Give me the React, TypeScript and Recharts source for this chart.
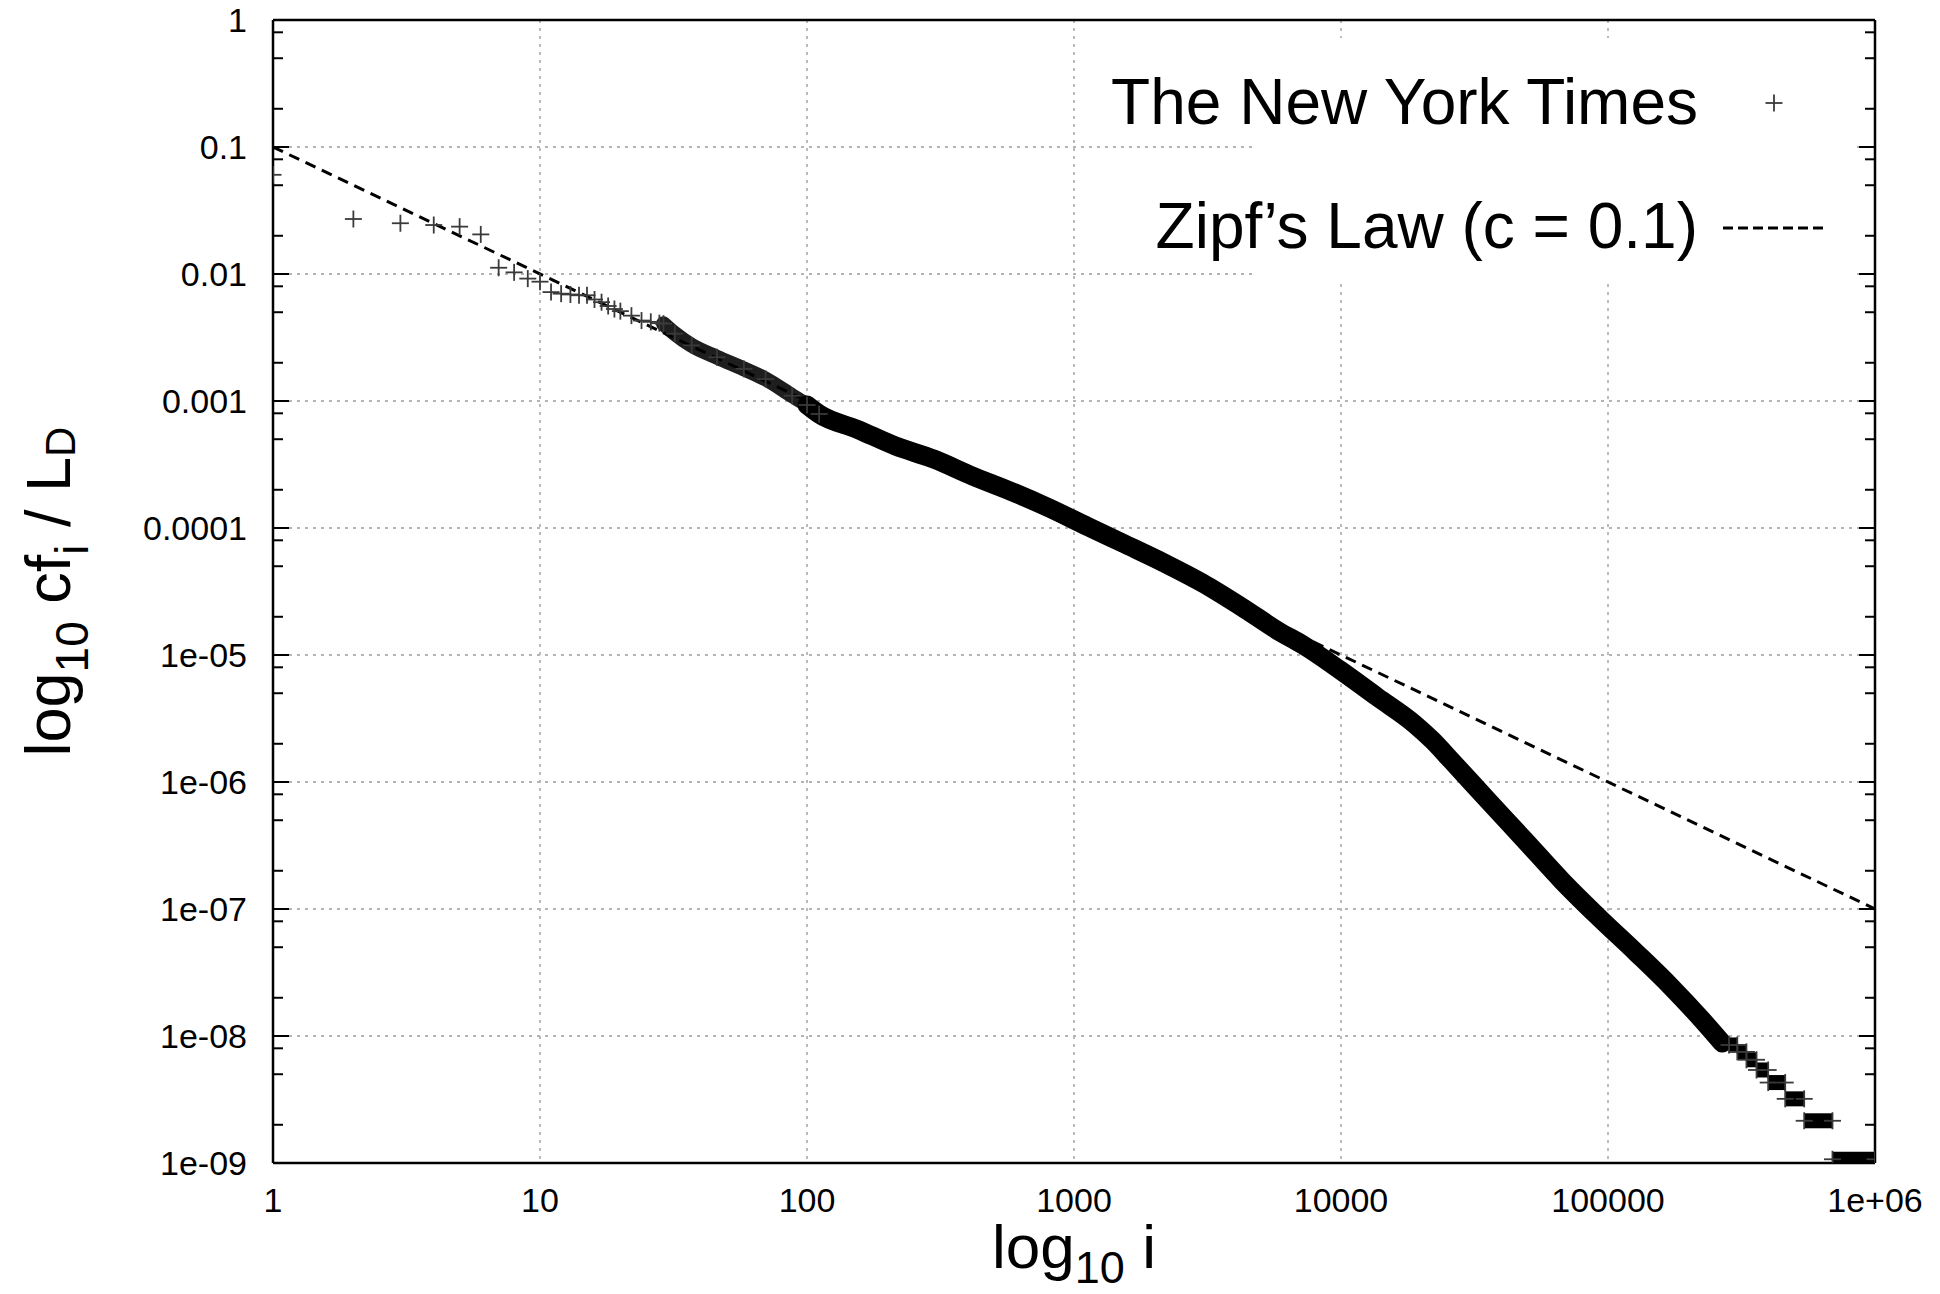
import React from 'react';
import { ComposedChart, Line, Scatter, XAxis, YAxis, CartesianGrid, Legend } from 'recharts';

const FONT = '"Liberation Sans", Arial, Helvetica, sans-serif';

// axis ticks
const xMajorTicks = [1, 10, 100, 1000, 10000, 100000, 1000000];
const xTickLabels = ['1', '10', '100', '1000', '10000', '100000', '1e+06'];
const xMinorTicks = [2, 5, 8, 20, 50, 80, 200, 500, 800, 2000, 5000, 8000, 20000, 50000, 80000, 200000, 500000, 800000];
const yMajorTicks = [1e-9, 1e-8, 1e-7, 1e-6, 1e-5, 1e-4, 1e-3, 1e-2, 1e-1, 1];
const yTickLabels = ['1e-09', '1e-08', '1e-07', '1e-06', '1e-05', '0.0001', '0.001', '0.01', '0.1', '1'];
const yMinorTicks = [
  2e-9, 5e-9, 8e-9, 2e-8, 5e-8, 8e-8, 2e-7, 5e-7, 8e-7, 2e-6, 5e-6, 8e-6,
  2e-5, 5e-5, 8e-5, 2e-4, 5e-4, 8e-4, 2e-3, 5e-3, 8e-3, 0.02, 0.05, 0.08, 0.2, 0.5, 0.8,
];

// The New York Times: first ranks, seen as single "+" marks
const headRanks = [1, 2, 3, 4, 5, 6, 7, 8, 9, 10, 11, 12, 13, 14, 15, 16, 17, 18, 19, 20, 22, 24, 26, 28];
const headValues = [
  0.0604, 0.0271, 0.0251, 0.0243, 0.0236, 0.0205, 0.0112, 0.0103, 0.0092, 0.0087, 0.0072, 0.007,
  0.0069, 0.0068, 0.0068, 0.0063, 0.006, 0.0056, 0.0053, 0.0051, 0.0047, 0.0043, 0.0042, 0.0041,
];

// where the marks start to merge into a band
const earlyRanks = [29, 32, 37, 46, 58, 70, 88, 100, 111];
const earlyValues = [0.00406, 0.00339, 0.00274, 0.00221, 0.00179, 0.00149, 0.0011, 0.00093, 0.00079];

// dense part of the curve
const bandRanks = [
  100, 111, 154, 214, 299, 416, 579, 806, 1122, 1563, 2175, 3029, 4217, 5870, 7200, 9930, 13650,
  18790, 22000, 25860, 35560, 48980, 67400, 92700, 127700, 172000, 225000, 268000,
];
const bandValues = [
  0.00093, 0.00079, 0.0006, 0.000443, 0.000348, 0.000257, 0.000195, 0.000144, 0.000103, 7.41e-5,
  5.31e-5, 3.69e-5, 2.41e-5, 1.53e-5, 1.2e-5, 7.6e-6, 4.68e-6, 2.88e-6, 2.13e-6, 1.48e-6, 7.14e-7,
  3.45e-7, 1.66e-7, 8.54e-8, 4.52e-8, 2.45e-8, 1.34e-8, 8.8e-9,
];

// tail plateaus (cf = 8 ... 1)
const stepFrom = [284000, 305000, 330000, 360000, 398000, 461000, 543000, 693000];
const stepTo = [305000, 330000, 360000, 398000, 461000, 543000, 693000, 1000000];
const stepValues = [8.5e-9, 7.5e-9, 6.5e-9, 5.4e-9, 4.3e-9, 3.2e-9, 2.15e-9, 1.07e-9];

// Zipf's law, c = 0.1
const zipfRanks = [1, 1000000];
const zipfValues = [0.1, 1e-7];

const toPoints = (ranks: number[], values: number[]) => ranks.map((rank, i) => ({ rank, value: values[i] }));

const headPoints = toPoints(headRanks, headValues);
const earlyPoints = toPoints(earlyRanks, earlyValues);
const bandPoints = toPoints(bandRanks, bandValues);
const stepSegments = stepFrom.map((from, i) => toPoints([from, stepTo[i]], [stepValues[i], stepValues[i]]));
const stepEnds = stepSegments.flat();
const zipfPoints = toPoints(zipfRanks, zipfValues);

const fmtX = (v: number) => xTickLabels[xMajorTicks.indexOf(v)] ?? '';
const fmtY = (v: number) => yTickLabels[yMajorTicks.indexOf(v)] ?? '';
const noLabel = () => '';

const PlusMark = ({ cx, cy }: any) => {
  if (cx == null || cy == null) return null;
  return (
    <g stroke="#3a3a3a" strokeWidth={1.8}>
      <line x1={cx - 8.5} y1={cy} x2={cx + 8.5} y2={cy} />
      <line x1={cx} y1={cy - 8.5} x2={cx} y2={cy + 8.5} />
    </g>
  );
};

const XTitle = (props: any) => {
  const vb = props.viewBox || { x: 275, width: 1597 };
  return (
    <text x={vb.x + vb.width / 2} y={1268} textAnchor="middle" fontSize={62} fontFamily={FONT} fill="#000">
      <tspan>log</tspan>
      <tspan fontSize={45} dy={15}>10</tspan>
      <tspan dy={-15}> i</tspan>
    </text>
  );
};

const YTitle = (props: any) => {
  const vb = props.viewBox || { y: 22, height: 1139 };
  const cy = vb.y + vb.height / 2;
  return (
    <text x={0} y={0} transform={`translate(70, ${cy}) rotate(-90)`} textAnchor="middle" fontSize={63} fontFamily={FONT} fill="#000">
      <tspan>log</tspan>
      <tspan fontSize={46} dy={18}>10</tspan>
      <tspan dy={-18}> cf</tspan>
      <tspan fontSize={46} dy={18}>i</tspan>
      <tspan dy={-18}> / L</tspan>
      <tspan fontSize={42} dy={5}>D</tspan>
    </text>
  );
};

const LegendBox = () => (
  <svg width={604} height={244} style={{ display: 'block', overflow: 'visible' }}>
    <rect x={0} y={0} width={604} height={244} fill="#fff" />
    <text x={446} y={86} textAnchor="end" fontSize={64} fontFamily={FONT} fill="#000">
      The New York Times
    </text>
    <PlusMark cx={522} cy={65} />
    <text x={446} y={210} textAnchor="end" fontSize={64} fontFamily={FONT} fill="#000">
      Zipf’s Law (c = 0.1)
    </text>
    <line x1={471} y1={190} x2={576} y2={190} stroke="#000" strokeWidth={3} strokeDasharray="10 5" />
  </svg>
);

const axisLine = { stroke: '#000', strokeWidth: 2.5 };
const tickLine = { stroke: '#000', strokeWidth: 2 };
const tickFont = { fontSize: 34, fill: '#000', fontFamily: FONT };

// inward tick marks: mirrored axes without labels
const xTickAxes = [
  { id: 'xb', orientation: 'bottom', ticks: xMajorTicks, size: 16 },
  { id: 'xbm', orientation: 'bottom', ticks: xMinorTicks, size: 9 },
  { id: 'xt', orientation: 'top', ticks: xMajorTicks, size: 16 },
  { id: 'xtm', orientation: 'top', ticks: xMinorTicks, size: 9 },
];
const yTickAxes = [
  { id: 'yl', orientation: 'left', ticks: yMajorTicks, size: 16 },
  { id: 'ylm', orientation: 'left', ticks: yMinorTicks, size: 9 },
  { id: 'yr', orientation: 'right', ticks: yMajorTicks, size: 16 },
  { id: 'yrm', orientation: 'right', ticks: yMinorTicks, size: 9 },
];

export default function App() {
  return (
    <div style={{ position: 'absolute', left: 0, top: 0, width: 1940, height: 1294, background: '#fff' }}>
      <ComposedChart width={1940} height={1294} margin={{ top: 20, right: 65, bottom: 130, left: 272 }}>
        <CartesianGrid xAxisId="x" yAxisId="y" stroke="#b4b4b4" strokeWidth={1.8} strokeDasharray="3 5" />

        <Scatter xAxisId="x" yAxisId="y" data={headPoints} dataKey="value" shape={(p: any) => <PlusMark {...p} />} isAnimationActive={false} />
        <Line xAxisId="x" yAxisId="y" data={earlyPoints} dataKey="value" type="monotone" stroke="#1e1e1e" strokeWidth={15} strokeLinecap="round" strokeLinejoin="round" dot={false} activeDot={false} isAnimationActive={false} />
        <Scatter xAxisId="x" yAxisId="y" data={earlyPoints} dataKey="value" shape={(p: any) => <PlusMark {...p} />} isAnimationActive={false} />
        <Line xAxisId="x" yAxisId="y" data={bandPoints} dataKey="value" type="monotone" stroke="#000" strokeWidth={19} strokeLinecap="round" strokeLinejoin="round" dot={false} activeDot={false} isAnimationActive={false} />
        {stepSegments.map((seg, i) => (
          <Line key={i} xAxisId="x" yAxisId="y" data={seg} dataKey="value" type="linear" stroke="#000" strokeWidth={15} strokeLinecap="butt" dot={false} activeDot={false} isAnimationActive={false} />
        ))}
        <Scatter xAxisId="x" yAxisId="y" data={stepEnds} dataKey="value" shape={(p: any) => <PlusMark {...p} />} isAnimationActive={false} />
        <Line xAxisId="x" yAxisId="y" data={zipfPoints} dataKey="value" type="linear" stroke="#000" strokeWidth={3} strokeDasharray="11 7" dot={false} activeDot={false} isAnimationActive={false} />

        <XAxis xAxisId="x" dataKey="rank" type="number" scale="log" domain={[1, 1000000]} allowDataOverflow ticks={xMajorTicks} interval={0} tickFormatter={fmtX} height={1} tickSize={0} tickMargin={25} axisLine={axisLine} tickLine={false} tick={tickFont} label={(p: any) => <XTitle {...p} />} />
        {xTickAxes.map((a) => (
          <XAxis key={a.id} xAxisId={a.id} orientation={a.orientation as any} mirror type="number" scale="log" domain={[1, 1000000]} allowDataOverflow ticks={a.ticks} interval={0} tickFormatter={noLabel} height={1} tickSize={a.size} axisLine={a.orientation === 'top' && a.size === 16 ? axisLine : false} tickLine={tickLine} />
        ))}

        <YAxis yAxisId="y" dataKey="value" type="number" scale="log" domain={[1e-9, 1]} allowDataOverflow ticks={yMajorTicks} interval={0} tickFormatter={fmtY} width={1} tickSize={0} tickMargin={26} axisLine={axisLine} tickLine={false} tick={tickFont} label={(p: any) => <YTitle {...p} />} />
        {yTickAxes.map((a) => (
          <YAxis key={a.id} yAxisId={a.id} orientation={a.orientation as any} mirror type="number" scale="log" domain={[1e-9, 1]} allowDataOverflow ticks={a.ticks} interval={0} tickFormatter={noLabel} width={1} tickSize={a.size} axisLine={a.orientation === 'right' && a.size === 16 ? axisLine : false} tickLine={tickLine} />
        ))}

        <Legend layout="horizontal" align="center" verticalAlign="middle" content={() => <LegendBox />} wrapperStyle={{ left: 1252, top: 38, width: 604, height: 244, margin: 0, padding: 0, lineHeight: 0, overflow: 'visible' }} />
      </ComposedChart>
    </div>
  );
}
